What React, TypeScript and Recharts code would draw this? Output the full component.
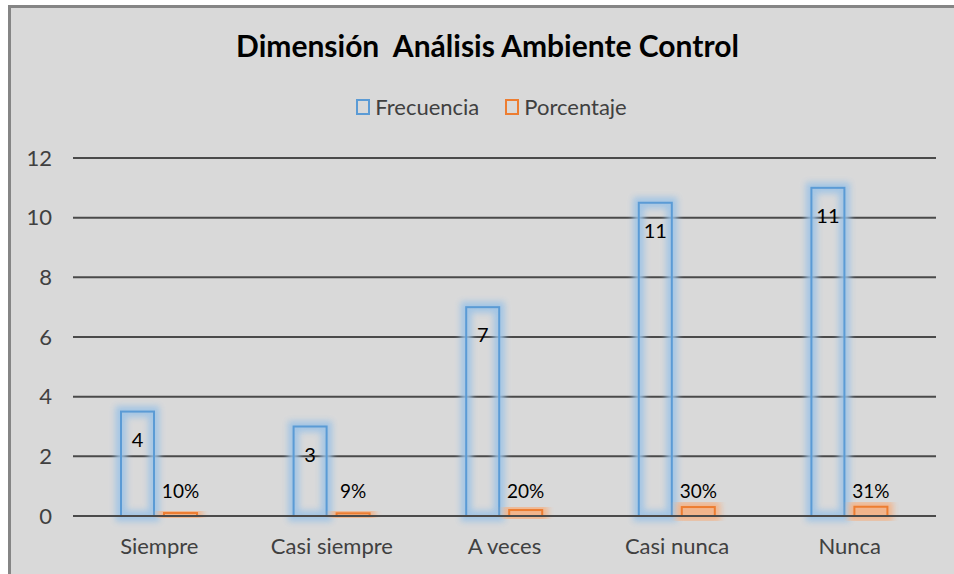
import React from "react";
import { BarChart, Bar, XAxis, YAxis, CartesianGrid, LabelList } from "recharts";

const categories = ["Siempre", "Casi siempre", "A veces", "Casi nunca", "Nunca"];
const frecuencia = [3.5, 3, 7, 10.5, 11];
const frecuenciaLabels = ["4", "3", "7", "11", "11"];
const porcentaje = [0.1, 0.09, 0.2, 0.3, 0.31];
const porcentajeLabels = ["10%", "9%", "20%", "30%", "31%"];
const yTicks = [0, 2, 4, 6, 8, 10, 12];

const data = categories.map((name, i) => ({
  name,
  frecuencia: frecuencia[i],
  fLabel: frecuenciaLabels[i],
  porcentaje: porcentaje[i],
  pLabel: porcentajeLabels[i],
}));

const FONT = "Lato, 'Open Sans', sans-serif";
const BLUE = "#5b9bd5";
const ORANGE = "#ed7d31";

// contorno con brillo, como el estilo de Excel
const glowShape = (color: string, glow: string, id: string) => (props: any) => {
  const { x, y, width, height, index } = props;
  const fid = `${id}-${index}`;
  return (
    <g>
      <defs>
        <filter id={fid} x="-50%" y="-50%" width="200%" height="200%">
          <feGaussianBlur stdDeviation="3" />
        </filter>
      </defs>
      <rect x={x} y={y} width={width} height={height} fill="none" stroke={glow} strokeWidth={11} opacity={0.9} filter={`url(#${fid})`} />
      <rect x={x} y={y} width={width} height={height} fill="none" stroke={color} strokeWidth={2} />
    </g>
  );
};

const PctLabel = (props: any) => {
  const { x, y, width, height, value } = props;
  return (
    <text x={x + width / 2} y={y + height - 18} textAnchor="middle" fontSize={19} fontFamily={FONT} fill="#000">
      {value}
    </text>
  );
};

const LegendBox = ({ color, label }: { color: string; label: string }) => (
  <span style={{ display: "inline-flex", alignItems: "center", marginRight: 26 }}>
    <span style={{ width: 10, height: 12, border: `2px solid ${color}`, marginRight: 5, display: "inline-block" }} />
    {label}
  </span>
);

export default function App() {
  return (
    <div
      style={{
        position: "absolute",
        left: 8,
        top: 5,
        width: 946,
        height: 569,
        background: "#d9d9d9",
        borderTop: "3px solid #858585",
        borderLeft: "3px solid #858585",
        boxSizing: "border-box",
        fontFamily: FONT,
      }}
    >
      <div style={{ position: "absolute", top: 19, left: 0, width: 953, textAlign: "center", fontSize: 30, fontWeight: 700, color: "#000" }}>
        Dimensión&nbsp; Análisis Ambiente Control
      </div>
      <div style={{ position: "absolute", top: 85, left: 0, width: 987, fontSize: 22, color: "#404040", display: "flex", justifyContent: "center" }}>
        <LegendBox color={BLUE} label="Frecuencia" />
        <LegendBox color={ORANGE} label="Porcentaje" />
      </div>
      <BarChart
        width={943}
        height={566}
        data={data}
        margin={{ top: 150, right: 18, left: 0, bottom: 28 }}
        barSize={33}
        barGap={10}
      >
        <CartesianGrid vertical={false} stroke="#4a4a4a" strokeWidth={2} />
        <XAxis
          dataKey="name"
          height={30}
          axisLine={{ stroke: "#4a4a4a", strokeWidth: 2 }}
          tickLine={false}
          tickSize={0}
          tickMargin={22}
          tick={{ fontSize: 22, fill: "#404040", fontFamily: FONT }}
        />
        <YAxis
          width={62}
          domain={[0, 12]}
          ticks={yTicks}
          axisLine={false}
          tickLine={false}
          tickSize={0}
          tickMargin={21}
          tick={{ fontSize: 22, fill: "#404040", fontFamily: FONT }}
        />
        <Bar dataKey="frecuencia" name="Frecuencia" isAnimationActive={false} shape={glowShape(BLUE, "#9dc3e6", "gb")}>
          <LabelList dataKey="fLabel" position="insideTop" offset={21} fontSize={20} fill="#000" fontFamily={FONT} />
        </Bar>
        <Bar dataKey="porcentaje" name="Porcentaje" isAnimationActive={false} shape={glowShape(ORANGE, "#f4b183", "go")}>
          <LabelList dataKey="pLabel" content={PctLabel} />
        </Bar>
      </BarChart>
    </div>
  );
}
